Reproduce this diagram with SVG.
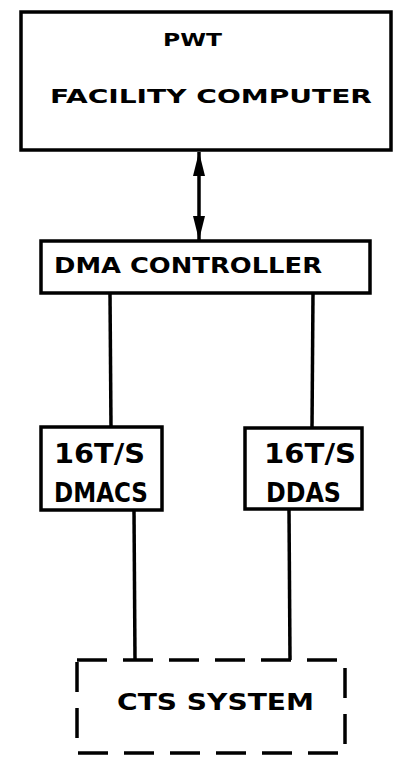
<svg xmlns="http://www.w3.org/2000/svg" width="406" height="763" viewBox="0 0 406 763">
<style>
.box{fill:#fff;stroke:#000;stroke-width:3.5}
.dash{fill:none;stroke:#000;stroke-width:3.5;stroke-dasharray:30 16}
.ln{fill:none;stroke:#000;stroke-width:3.5}
text{font-family:"DejaVu Sans","Liberation Sans",Arial,sans-serif;font-weight:bold;fill:#000}
</style>
<defs>
<marker id="ah" viewBox="0 0 24 12" refX="24" refY="6" markerWidth="24" markerHeight="12" orient="auto-start-reverse" markerUnits="userSpaceOnUse">
<path d="M0,0 L24,6 L0,12 Z" fill="#000"/>
</marker>
</defs>
<rect width="406" height="763" fill="#fff"/>
<g id="connectors">
<line class="ln" x1="199" y1="152" x2="199" y2="240" marker-start="url(#ah)" marker-end="url(#ah)"/>
<line class="ln" x1="110" y1="293" x2="111" y2="428"/>
<line class="ln" x1="313" y1="293" x2="312" y2="428"/>
<line class="ln" x1="134" y1="510" x2="135" y2="660"/>
<line class="ln" x1="289" y1="509" x2="290" y2="660"/>
</g>
<g id="pwt">
<rect class="box" x="21" y="12" width="370" height="138"/>
<text x="163" y="46" font-size="17" textLength="59" lengthAdjust="spacingAndGlyphs">PWT</text>
<text x="50" y="103" font-size="20" textLength="322" lengthAdjust="spacingAndGlyphs">FACILITY COMPUTER</text>
</g>
<g id="dma">
<rect class="box" x="41" y="241" width="329" height="52"/>
<text x="54" y="273" font-size="22" textLength="268" lengthAdjust="spacingAndGlyphs">DMA CONTROLLER</text>
</g>
<g id="dmacs">
<rect class="box" x="41" y="427" width="121" height="83"/>
<text x="54" y="463" font-size="26" textLength="91" lengthAdjust="spacingAndGlyphs">16T/S</text>
<text x="54" y="502" font-size="26" textLength="94" lengthAdjust="spacingAndGlyphs">DMACS</text>
</g>
<g id="ddas">
<rect class="box" x="245" y="428" width="117" height="81"/>
<text x="264" y="463" font-size="26" textLength="92" lengthAdjust="spacingAndGlyphs">16T/S</text>
<text x="266" y="502" font-size="26" textLength="75" lengthAdjust="spacingAndGlyphs">DDAS</text>
</g>
<g id="cts">
<rect class="dash" x="77" y="660" width="268" height="93"/>
<text x="117" y="710" font-size="23" textLength="197" lengthAdjust="spacingAndGlyphs">CTS SYSTEM</text>
</g>
</svg>
